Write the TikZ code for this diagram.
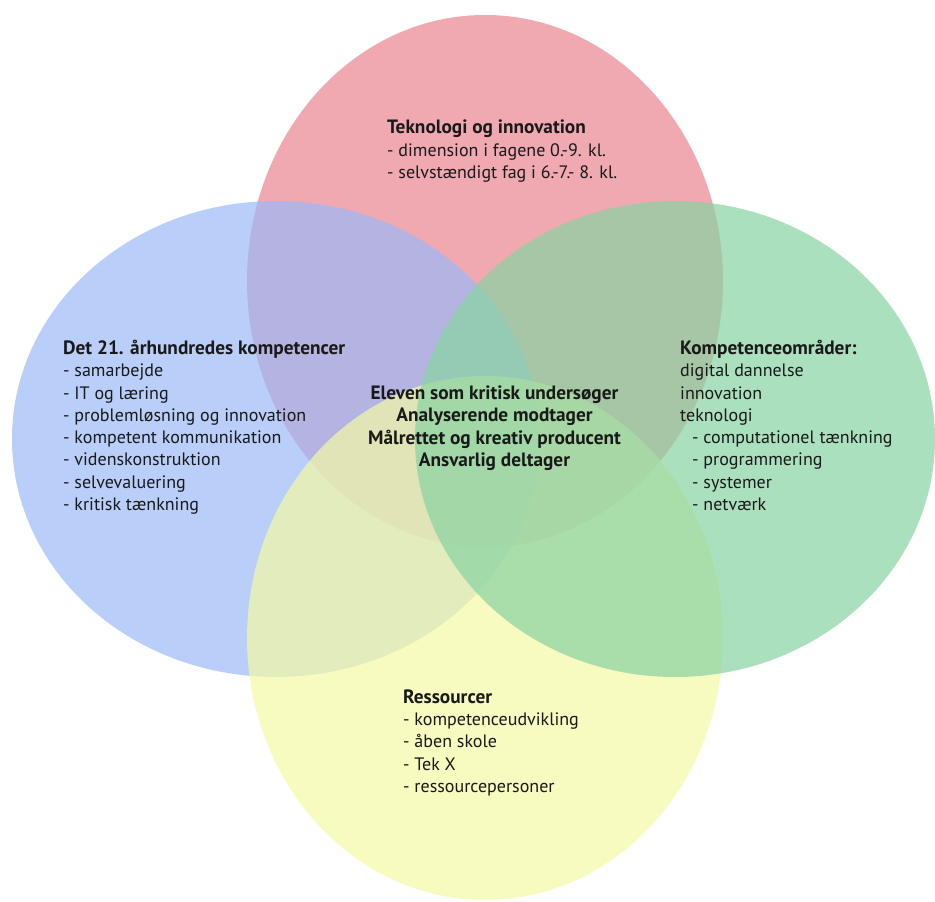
\documentclass[tikz,border=0pt]{standalone}
\usepackage{fontspec}
\setmainfont{PT Sans}
\definecolor{tekred}{RGB}{234,132,144}
\definecolor{kompblue}{RGB}{155,185,246}
\definecolor{resyellow}{RGB}{245,249,165}
\definecolor{omrgreen}{RGB}{136,211,162}
\newcommand\hd[1]{{\fontsize{19.3}{22.3}\selectfont\bfseries #1}}
\begin{document}
\begin{tikzpicture}[x=1pt,y=-1pt,
    blob/.style={fill opacity=0.7},
    txt/.style={align=left,anchor=base west,inner sep=0pt,text=black!90,
      font=\fontsize{18}{22.3}\selectfont}]
  \useasboundingbox (0,0) rectangle (935,902);
  \fill[blob,tekred] (485,281) ellipse [x radius=238pt,y radius=266pt];
  \fill[blob,kompblue] (276,439) ellipse [x radius=264pt,y radius=238pt];
  \fill[blob,resyellow] (485,638) ellipse [x radius=238pt,y radius=262pt];
  \fill[blob,omrgreen] (675,439) ellipse [x radius=260pt,y radius=238pt];
  \node[txt] (tek) at (387,178.5) {\hd{Teknologi og innovation}\\
    - dimension i fagene 0.-9. kl.\\
    - selvstændigt fag i 6.-7.- 8. kl.};
  \node[txt] (komp) at (63,510.5) {\hd{Det 21. århundredes kompetencer}\\
    - samarbejde\\
    - IT og læring\\
    - problemløsning og innovation\\
    - kompetent kommunikation\\
    - videnskonstruktion\\
    - selvevaluering\\
    - kritisk tænkning};
  \node[txt] (omr) at (680,510.5) {\hd{Kompetenceområder:}\\
    digital dannelse\\
    innovation\\
    teknologi\\
    \hspace*{12pt}- computationel tænkning\\
    \hspace*{12pt}- programmering\\
    \hspace*{12pt}- systemer\\
    \hspace*{12pt}- netværk};
  \node[txt,align=center,anchor=base] (elev) at (494.5,466.5) {\hd{Eleven som kritisk undersøger}\\
    \hd{Analyserende modtager}\\
    \hd{Målrettet og kreativ producent}\\
    \hd{Ansvarlig deltager}};
  \node[txt] (res) at (403,792.5) {\hd{Ressourcer}\\
    - kompetenceudvikling\\
    - åben skole\\
    - Tek X\\
    - ressourcepersoner};
\end{tikzpicture}
\end{document}
